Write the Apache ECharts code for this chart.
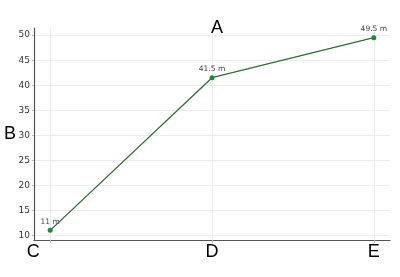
<!DOCTYPE html>
<html><head><meta charset="utf-8">
<script src="https://cdn.jsdelivr.net/npm/echarts@6/dist/echarts.min.js"></script>
<style>html,body{margin:0;padding:0;background:#fff}#c{width:400px;height:277px}</style>
</head><body><div id="c"></div>
<script>
const categories = ['C', 'D', 'E'];
const values = [11, 41.5, 49.5];
const unit = ' m';
const titleText = 'A';
const yName = 'B';

const data = values.map((v, i) => [i, v]);
const chart = echarts.init(document.getElementById('c'));
chart.setOption({
  animation: false,
  title: { text: titleText, left: 212, top: 14, textAlign: 'center',
    textStyle: { fontFamily: 'Liberation Sans', fontSize: 18, fontWeight: 'normal', color: '#000' } },
  grid: { left: 34, right: 10, top: 28, bottom: 37, outerBoundsMode: 'none', containLabel: false },
  xAxis: {
    type: 'value', min: -0.1, max: 2.1, splitNumber: 2,
    axisLine: { show: true, onZero: false, lineStyle: { color: '#555', width: 1.2 } },
    axisTick: { show: true, length: 3, lineStyle: { color: '#bbb' } },
    splitLine: { show: true, showMinLine: false, showMaxLine: false, lineStyle: { color: '#ececec', width: 1 } },
    axisLabel: {
      showMinLabel: false, showMaxLabel: false, margin: 3,
      fontFamily: 'Liberation Sans', fontSize: 18, color: '#000',
      formatter: v => {
        const i = Math.round(v);
        if (Math.abs(v - i) > 1e-6 || i < 0 || i >= categories.length) return '';
        return i === 0 ? '{c|' + categories[i] + '}' : categories[i];
      },
      rich: { c: { fontFamily: 'Liberation Sans', fontSize: 18, color: '#000', padding: [0, 34, 0, 0] } }
    }
  },
  yAxis: {
    type: 'value', min: 9.075, max: 51.425, splitNumber: 8,
    name: yName, nameLocation: 'middle', nameRotate: 0, nameGap: 18, nameMoveOverlap: false,
    nameTextStyle: { fontFamily: 'Liberation Sans', fontSize: 18, color: '#000' },
    axisLine: { show: true, onZero: false, lineStyle: { color: '#555', width: 1.2 } },
    axisTick: { show: true, length: 2, lineStyle: { color: '#bbb' } },
    splitLine: { show: true, showMinLine: false, showMaxLine: false, lineStyle: { color: '#ececec', width: 1 } },
    axisLabel: { showMinLabel: false, showMaxLabel: false, margin: 4,
      fontFamily: 'DejaVu Sans', fontSize: 9, color: '#333' }
  },
  series: [{
    type: 'line', data: data,
    symbol: 'circle', symbolSize: 5,
    lineStyle: { color: '#2f6e2f', width: 1.3 },
    itemStyle: { color: '#1b8a3a' },
    label: { show: true, position: 'top', distance: 2,
      fontFamily: 'DejaVu Sans', fontSize: 7.5, color: '#444',
      formatter: p => p.value[1] + unit }
  }]
});
</script></body></html>
